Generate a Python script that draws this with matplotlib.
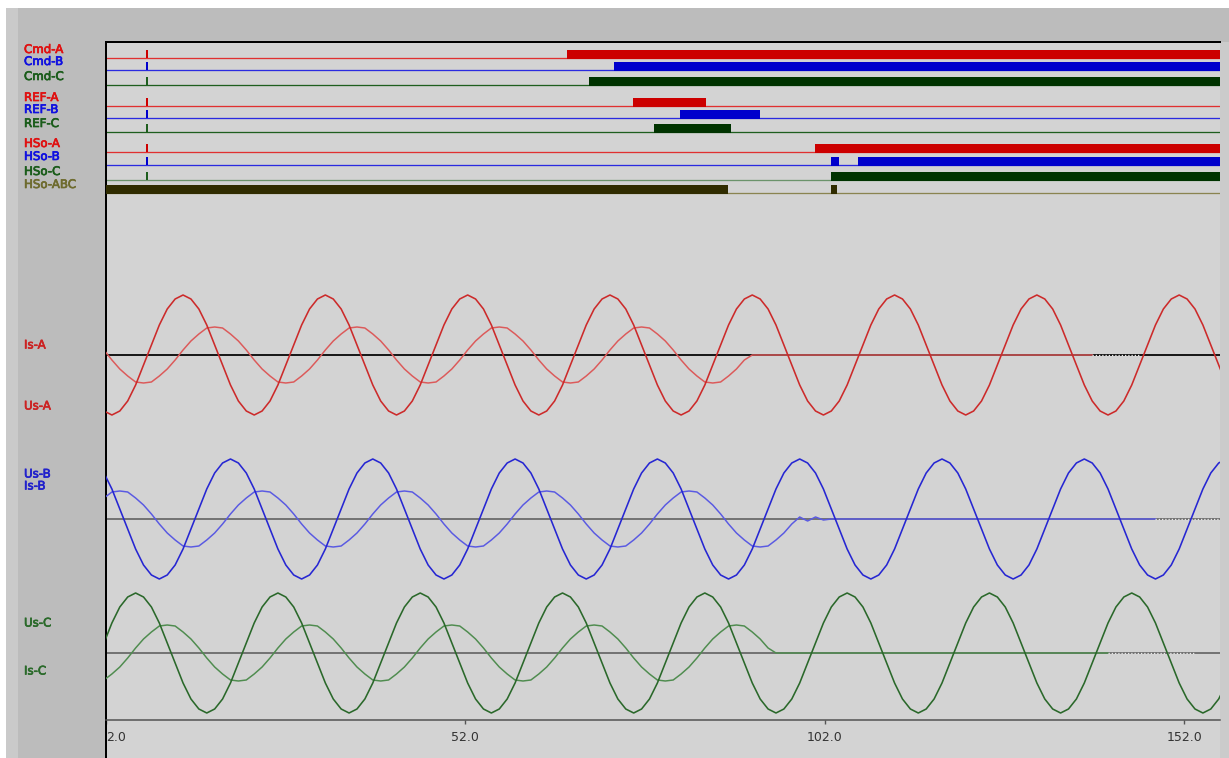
import numpy as np
import matplotlib.pyplot as plt
import matplotlib.patheffects as pe
from matplotlib.patches import Rectangle

nan = np.nan

# ---- digital channels: "on" intervals in ms ----
dig_names = ["Cmd-A", "Cmd-B", "Cmd-C", "REF-A", "REF-B", "REF-C",
             "HSo-A", "HSo-B", "HSo-C", "HSo-ABC"]
cmd_a = [(66.1, 157.0)]
cmd_b = [(72.7, 157.0)]
cmd_c = [(69.2, 157.0)]
ref_a = [(75.3, 85.5)]
ref_b = [(81.9, 93.0)]
ref_c = [(78.2, 89.0)]
hso_a = [(100.6, 157.0)]
hso_b = [(102.9, 104.0), (106.6, 157.0)]
hso_c = [(102.9, 157.0)]
hso_abc = [(2.0, 88.5), (102.9, 103.7)]
marker_t = 7.7

# ---- analog samples (18 per cycle), one row per cycle ----
t_start = 1.72
t_step = 1.1
us_a = [
    -56, -60, -56, -46, -30, -10, 10, 30, 46, 56, 60, 56, 46, 30, 10, -10, -30, -46,
    -56, -60, -56, -46, -30, -10, 10, 30, 46, 56, 60, 56, 46, 30, 10, -10, -30, -46,
    -56, -60, -56, -46, -30, -10, 10, 30, 46, 56, 60, 56, 46, 30, 10, -10, -30, -46,
    -56, -60, -56, -46, -30, -10, 10, 30, 46, 56, 60, 56, 46, 30, 10, -10, -30, -46,
    -56, -60, -56, -46, -30, -10, 10, 30, 46, 56, 60, 56, 46, 30, 10, -10, -30, -46,
    -56, -60, -56, -46, -30, -10, 10, 30, 46, 56, 60, 56, 46, 30, 10, -10, -30, -46,
    -56, -60, -56, -46, -30, -10, 10, 30, 46, 56, 60, 56, 46, 30, 10, -10, -30, -46,
    -56, -60, -56, -46, -30, -10, 10, 30, 46, 56, 60, 56, 46, 30, 10, -10, -30, -46,
]
is_a = [
    5, -5, -14, -21, -27, -28, -27, -21, -14, -5, 5, 14, 21, 27, 28, 27, 21, 14,
    5, -5, -14, -21, -27, -28, -27, -21, -14, -5, 5, 14, 21, 27, 28, 27, 21, 14,
    5, -5, -14, -21, -27, -28, -27, -21, -14, -5, 5, 14, 21, 27, 28, 27, 21, 14,
    5, -5, -14, -21, -27, -28, -27, -21, -14, -5, 5, 14, 21, 27, 28, 27, 21, 14,
    5, -5, -14, -21, -27, -28, -27, -21, -14, -5, 0, 0, 0, 0, 0, 0, 0, 0,
    0, 0, 0, 0, 0, 0, 0, 0, 0, 0, 0, 0, 0, 0, 0, 0, 0, 0,
    0, 0, 0, 0, 0, 0, 0, 0, 0, 0, 0, 0, 0, 0, 0, 0, 0, 0,
    0, 0, 0, 0, 0, 0, nan, nan, nan, nan, nan, nan, nan, nan, nan, nan, nan, nan,
]
us_b = [
    46, 30, 10, -10, -30, -46, -56, -60, -56, -46, -30, -10, 10, 30, 46, 56, 60, 56,
    46, 30, 10, -10, -30, -46, -56, -60, -56, -46, -30, -10, 10, 30, 46, 56, 60, 56,
    46, 30, 10, -10, -30, -46, -56, -60, -56, -46, -30, -10, 10, 30, 46, 56, 60, 56,
    46, 30, 10, -10, -30, -46, -56, -60, -56, -46, -30, -10, 10, 30, 46, 56, 60, 56,
    46, 30, 10, -10, -30, -46, -56, -60, -56, -46, -30, -10, 10, 30, 46, 56, 60, 56,
    46, 30, 10, -10, -30, -46, -56, -60, -56, -46, -30, -10, 10, 30, 46, 56, 60, 56,
    46, 30, 10, -10, -30, -46, -56, -60, -56, -46, -30, -10, 10, 30, 46, 56, 60, 56,
    46, 30, 10, -10, -30, -46, -56, -60, -56, -46, -30, -10, 10, 30, 46, 56, 60, 56,
]
is_b = [
    21, 27, 28, 27, 21, 14, 5, -5, -14, -21, -27, -28, -27, -21, -14, -5, 5, 14,
    21, 27, 28, 27, 21, 14, 5, -5, -14, -21, -27, -28, -27, -21, -14, -5, 5, 14,
    21, 27, 28, 27, 21, 14, 5, -5, -14, -21, -27, -28, -27, -21, -14, -5, 5, 14,
    21, 27, 28, 27, 21, 14, 5, -5, -14, -21, -27, -28, -27, -21, -14, -5, 5, 14,
    21, 27, 28, 27, 21, 14, 5, -5, -14, -21, -27, -28, -27, -21, -14, -5, 2, -2,
    2, -1, 0, 0, 0, 0, 0, 0, 0, 0, 0, 0, 0, 0, 0, 0, 0, 0,
    0, 0, 0, 0, 0, 0, 0, 0, 0, 0, 0, 0, 0, 0, 0, 0, 0, 0,
    0, 0, 0, 0, 0, 0, 0, 0, 0, 0, 0, 0, 0, 0, 0, 0, 0, 0,
]
us_c = [
    10, 30, 46, 56, 60, 56, 46, 30, 10, -10, -30, -46, -56, -60, -56, -46, -30, -10,
    10, 30, 46, 56, 60, 56, 46, 30, 10, -10, -30, -46, -56, -60, -56, -46, -30, -10,
    10, 30, 46, 56, 60, 56, 46, 30, 10, -10, -30, -46, -56, -60, -56, -46, -30, -10,
    10, 30, 46, 56, 60, 56, 46, 30, 10, -10, -30, -46, -56, -60, -56, -46, -30, -10,
    10, 30, 46, 56, 60, 56, 46, 30, 10, -10, -30, -46, -56, -60, -56, -46, -30, -10,
    10, 30, 46, 56, 60, 56, 46, 30, 10, -10, -30, -46, -56, -60, -56, -46, -30, -10,
    10, 30, 46, 56, 60, 56, 46, 30, 10, -10, -30, -46, -56, -60, -56, -46, -30, -10,
    10, 30, 46, 56, 60, 56, 46, 30, 10, -10, -30, -46, -56, -60, -56, -46, -30, -10,
]
is_c = [
    -27, -21, -14, -5, 5, 14, 21, 27, 28, 27, 21, 14, 5, -5, -14, -21, -27, -28,
    -27, -21, -14, -5, 5, 14, 21, 27, 28, 27, 21, 14, 5, -5, -14, -21, -27, -28,
    -27, -21, -14, -5, 5, 14, 21, 27, 28, 27, 21, 14, 5, -5, -14, -21, -27, -28,
    -27, -21, -14, -5, 5, 14, 21, 27, 28, 27, 21, 14, 5, -5, -14, -21, -27, -28,
    -27, -21, -14, -5, 5, 14, 21, 27, 28, 27, 21, 14, 5, 0, 0, 0, 0, 0,
    0, 0, 0, 0, 0, 0, 0, 0, 0, 0, 0, 0, 0, 0, 0, 0, 0, 0,
    0, 0, 0, 0, 0, 0, 0, 0, 0, 0, 0, 0, 0, 0, 0, 0, 0, 0,
    0, 0, 0, 0, 0, 0, 0, 0, 0, 0, 0, 0, 0, nan, nan, nan, nan, nan,
]

xticks = [2, 52, 102, 152]
xtick_labels = ["2.0", "52.0", "102.0", "152.0"]

# ---- layout (pixel rows of the screen) ----
W, H = 1229, 758
PX = 0.72  # points per pixel at dpi 100
dig_rows = [58, 70, 85, 106, 118, 132, 152, 165, 180, 193]
RED, BLUE, GRN = "#cc0000", "#0000cc", "#003300"
dig_bar = [RED, BLUE, GRN, RED, BLUE, GRN, RED, BLUE, GRN, "#302c00"]
dig_line = ["#e03030", "#2a2ae0", "#1e5e1e", "#e03030", "#2a2ae0", "#1e5e1e",
            "#e03030", "#2a2ae0", "#6b936b", "#8a8450"]
dig_lab = ["#e01010", "#1010e0", "#1a5c1a", "#e01010", "#1010e0", "#1a5c1a",
           "#e01010", "#1010e0", "#1a5c1a", "#6e6b2e"]
dig_data = [cmd_a, cmd_b, cmd_c, ref_a, ref_b, ref_c, hso_a, hso_b, hso_c, hso_abc]

fig = plt.figure(figsize=(W / 100, H / 100), dpi=100, facecolor="white")


def frect(x0, y0, x1, y1, color):
    fig.add_artist(Rectangle((x0 / W, 1 - y1 / H), (x1 - x0) / W, (y1 - y0) / H,
                             transform=fig.transFigure, facecolor=color,
                             edgecolor="none", zorder=-5))


def label(x, row, txt, col):
    fig.text(x / W, 1 - row / H, txt, color=col, fontsize=8.5, va="center", ha="left",
             path_effects=[pe.withStroke(linewidth=0.5, foreground=col)])


frect(6, 8, W, H, "#bcbcbc")
frect(6, 8, 18, H, "#cacaca")
frect(1220, 42, W, H, "#cbcbcb")

ax = fig.add_axes([106 / W, 0, 1114 / W, (H - 42) / H])
ax.set_facecolor("#d3d3d3")
ax.set_xlim(2, 157)
ax.set_ylim(H, 42)

# digital traces
for i, ivals in enumerate(dig_data):
    r = dig_rows[i]
    ax.hlines(r, 2, 157, color=dig_line[i], lw=1.3 * PX, zorder=2)
    ax.broken_barh([(s, e - s) for s, e in ivals], (r - 8, 8.5),
                   facecolors=dig_bar[i], zorder=3)
    if i < 9:
        ax.vlines(marker_t, r - 8, r, color=dig_bar[i] if dig_bar[i] != GRN else "#1e5e1e",
                  lw=2 * PX, zorder=3)
    label(24, r - 8.5, dig_names[i], dig_lab[i])

# analog traces
t = t_start + t_step * np.arange(len(us_a))
phases = [
    (355, us_a, is_a, "#cc2a2a", "#dc5a5a", "#1a1a1a", 2.0, 126),
    (519, us_b, is_b, "#2626d2", "#5a5ae2", "#555555", 1.5, 134),
    (653, us_c, is_c, "#2a682a", "#4f8c4f", "#555555", 1.5, 128),
]
for base, u, cur, ucol, icol, bcol, blw, solid in phases:
    u = np.array(u, dtype=float)
    cur = np.array(cur, dtype=float)
    ax.axhline(base, color=bcol, lw=blw * PX, zorder=2)
    ax.plot(t[:solid], base - cur[:solid], color=icol, lw=1.5 * PX, zorder=4)
    ax.plot(t[solid - 1:], base - cur[solid - 1:], color="#e8e8e8", lw=1.3 * PX,
            linestyle=(0, (1, 1.5)), zorder=4)
    ax.plot(t, base - u, color=ucol, lw=1.6 * PX, zorder=5)

ana_labels = [("Is-A", 345, "#cc2222"), ("Us-A", 406, "#cc2222"),
              ("Us-B", 474, "#2222cc"), ("Is-B", 486, "#2222cc"),
              ("Us-C", 623, "#2a6a2a"), ("Is-C", 671, "#2a6a2a")]
for txt, row, col in ana_labels:
    label(24, row, txt, col)

# frame
ax.spines["right"].set_visible(False)
ax.spines["top"].set_color("black")
ax.spines["top"].set_linewidth(2 * PX)
ax.spines["left"].set_color("black")
ax.spines["left"].set_linewidth(2 * PX)
ax.spines["bottom"].set_position(("data", 720))
ax.spines["bottom"].set_color("#505050")
ax.spines["bottom"].set_linewidth(1.5 * PX)
ax.set_yticks([])
ax.set_xticks(xticks)
ax.set_xticklabels(xtick_labels)
ax.tick_params(axis="x", direction="out", length=3, width=1, color="#555555",
               labelsize=9, labelcolor="#333333", pad=5)
ax.get_xticklabels()[0].set_ha("left")

fig.savefig("out.png", dpi=100)
